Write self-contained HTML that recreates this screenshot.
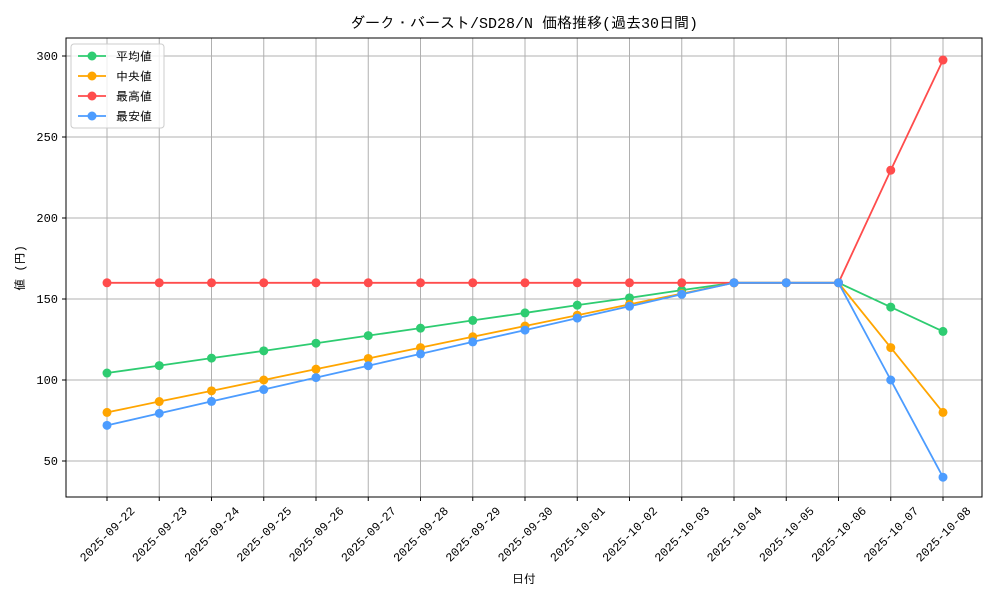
<!DOCTYPE html>
<html><head><meta charset="utf-8"><style>
body{margin:0;background:#fff;}
svg{font-family:"Liberation Mono","IPAGothic","Noto Sans CJK JP",monospace;}
</style></head><body>
<svg id="chart" width="1000" height="600" viewBox="0 0 1000 600">
<rect width="1000" height="600" fill="#fff"/>
<g id="grid"></g>
<g id="axes"></g>
<g id="series"></g>
<rect x="66" y="38" width="916" height="459" fill="none" stroke="#000" stroke-width="1"/>
<text x="524" y="28" text-anchor="middle" font-size="15">ダーク・バースト/SD28/N 価格推移(過去30日間)</text>
<text x="524" y="583" text-anchor="middle" font-size="12">日付</text>
<text transform="translate(24,268) rotate(-90)" text-anchor="middle" font-size="12">値 (円)</text>
<g id="legend"></g>
</svg>
<script>
const dates=["2025-09-22","2025-09-23","2025-09-24","2025-09-25","2025-09-26","2025-09-27","2025-09-28","2025-09-29","2025-09-30","2025-10-01","2025-10-02","2025-10-03","2025-10-04","2025-10-05","2025-10-06","2025-10-07","2025-10-08"];
const meanVals=[104.3,108.9,113.5,118,122.7,127.4,132,136.8,141.4,146.2,150.7,155.5,160,160,160,145,130];
const medianVals=[80,86.7,93.3,100,106.7,113.3,120,126.7,133.3,140,146.7,153.3,160,160,160,120,80];
const maxVals=[160,160,160,160,160,160,160,160,160,160,160,160,160,160,160,229.5,297.5];
const minVals=[72,79.4,86.8,94.1,101.5,108.8,116.1,123.5,130.8,138.2,145.5,152.9,160,160,160,100,40];
const yTicks=[50,100,150,200,250,300];
const seriesNames=["平均値","中央値","最高値","最安値"];
const colors=["#2ecc71","#ffa500","#ff4c4c","#4c9cff"];
const NS="http://www.w3.org/2000/svg";
function X(i){return 107+i*(943-107)/(dates.length-1);}
function Y(v){return 380-(v-100)*81/50;}
function mk(tag,attrs,parent){const e=document.createElementNS(NS,tag);for(const k in attrs)e.setAttribute(k,attrs[k]);parent.appendChild(e);return e;}
const grid=document.getElementById('grid'),axes=document.getElementById('axes'),ser=document.getElementById('series'),leg=document.getElementById('legend');
dates.forEach((d,i)=>{
  const l=mk('line',{x1:X(i),x2:X(i),y1:38,y2:497,stroke:'#b0b0b0','stroke-width':1},grid);
  
  
  const t=mk('line',{x1:X(i),x2:X(i),y1:497,y2:501,stroke:'#000'},axes);
  
  
  const tx=mk('text',{transform:`translate(${X(i)},${534}) rotate(-45)`,'text-anchor':'middle','font-size':12,dy:'0.35em'},axes);
  tx.textContent=d;
  
  
});
yTicks.forEach(v=>{
  const l=mk('line',{x1:66,x2:982,y1:Y(v),y2:Y(v),stroke:'#b0b0b0','stroke-width':1},grid);
  
  
  const t=mk('line',{x1:62,x2:66,y1:Y(v),y2:Y(v),stroke:'#000'},axes);
  
  
  const tx=mk('text',{x:58,y:Y(v)+4,'text-anchor':'end','font-size':12},axes);
  tx.textContent=v;
  
  
});
[meanVals,medianVals,maxVals,minVals].forEach((vals,s)=>{
  const g=mk('g',{},ser);
  
  
  const p=mk('polyline',{points:vals.map((v,i)=>X(i)+','+Y(v)).join(' '),fill:'none',stroke:colors[s],'stroke-width':1.8},g);
  
  
  vals.forEach((v,i)=>{
    const c=mk('circle',{cx:X(i),cy:Y(v),r:4.5,fill:colors[s]},g);
    
    
  });
});
const lb=mk('rect',{x:71,y:44,width:93,height:84,fill:'#fff','fill-opacity':0.8,stroke:'#ccc',rx:3},leg);


seriesNames.forEach((n,s)=>{
  const y=56+s*20;
  const g=mk('g',{},leg);
  
  
  mk('line',{x1:78,x2:106,y1:y,y2:y,stroke:colors[s],'stroke-width':1.8},g);
  mk('circle',{cx:92,cy:y,r:4.5,fill:colors[s]},g);
  const t=mk('text',{x:116,y:y+4.5,'font-size':12},g);
  t.textContent=n;
});
</script>
</body></html>
